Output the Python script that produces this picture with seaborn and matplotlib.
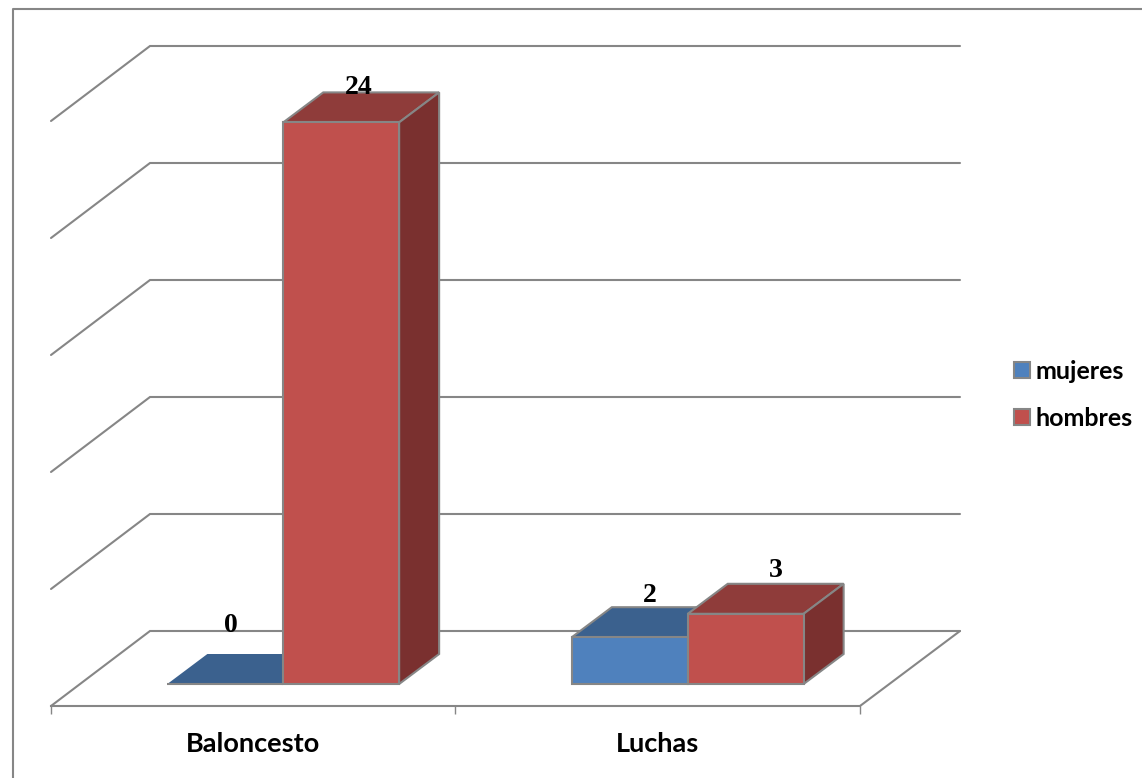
import matplotlib
matplotlib.use('Agg')
import matplotlib.pyplot as plt
from matplotlib.lines import Line2D
from matplotlib.patches import Polygon
from matplotlib.transforms import Affine2D, IdentityTransform
import pandas as pd
import seaborn as sns

categories = ['Baloncesto', 'Luchas']
mujeres = [0, 2]
hombres = [24, 3]
series_names = ['mujeres', 'hombres']
grid_levels = [0, 5, 10, 15, 20, 25]

W, H = 1142, 778
GRAY = '#868686'
LW = 1.5
FRONT = {'mujeres': '#4F81BD', 'hombres': '#C0504D'}
TOP = {'mujeres': '#3B618E', 'hombres': '#8F3C3A'}
SIDE = {'mujeres': '#31506F', 'hombres': '#7A302F'}
# fake 3d depth, in pixels
WALL_DX, WALL_DY = 99, 75
BAR_DX, BAR_DY = 40, 30
INSET_DX, INSET_DY = 30, 22
# hand placed data labels, pixels from the front top centre of each bar
label_nudge = {('mujeres', 0): (6, 59), ('hombres', 0): (18, 35),
               ('mujeres', 1): (20, 42), ('hombres', 1): (30, 43)}

df = pd.DataFrame({
    'deporte': categories * 2,
    'serie': ['mujeres'] * len(categories) + ['hombres'] * len(categories),
    'valor': mujeres + hombres,
})

sns.set_theme(style='white')
plt.rcParams['font.family'] = ['Lato', 'DejaVu Sans']

fig = plt.figure(figsize=(W / 100, H / 100), dpi=100)
ax = fig.add_axes([51 / W, (H - 706) / H, 809 / W, 585 / H])
sns.barplot(data=df, x='deporte', y='valor', hue='serie', order=categories,
            hue_order=series_names, palette=FRONT, width=0.573, gap=0,
            saturation=1, ax=ax)
ax.set_xlim(-0.5, 1.5)
ax.set_ylim(0, 25)
ax.patch.set_visible(False)
ax.set_xlabel('')
ax.set_ylabel('')
ax.set_yticks([])
sns.despine(ax=ax, left=True)
ax.spines['bottom'].set_color(GRAY)
ax.spines['bottom'].set_linewidth(LW)
ax.set_xticks([-0.5, 0.5, 1.5], minor=True)
ax.tick_params(axis='x', which='minor', length=6, width=1, color=GRAY, bottom=True)
ax.tick_params(axis='x', which='major', length=0, pad=18.5)
for lab in ax.get_xticklabels():
    lab.set_fontsize(19.5)
    lab.set_fontweight('bold')
    lab.set_color('black')


def add_poly(pts, **kw):
    ax.add_patch(Polygon(pts, closed=True, transform=IdentityTransform(), clip_on=False, **kw))


# walls and floor
to_px = ax.transData.transform
for level in grid_levels:
    x0, y0 = to_px((-0.5, level))
    x1, _ = to_px((1.5, level))
    xs = [x0, x0 + WALL_DX, x1 + WALL_DX + 1]
    ys = [y0, y0 + WALL_DY, y0 + WALL_DY]
    ax.add_line(Line2D(xs, ys, transform=IdentityTransform(), color=GRAY, lw=LW,
                       clip_on=False, zorder=1, solid_joinstyle='miter'))
x1, y0 = to_px((1.5, 0))
ax.add_line(Line2D([x1, x1 + WALL_DX + 1], [y0, y0 + WALL_DY], transform=IdentityTransform(),
                   color=GRAY, lw=LW, clip_on=False, zorder=1))

# bars get shifted onto the floor, then side and top faces are added
shift = Affine2D().translate(INSET_DX, INSET_DY)
for s, (name, bars) in enumerate(zip(series_names, ax.containers)):
    for i, bar in enumerate(bars):
        bar.set_transform(ax.transData + shift)
        bar.set_edgecolor(GRAY)
        bar.set_linewidth(LW)
        bar.set_zorder(3 + 2 * s)
        bar.set_clip_on(False)
        xa, ya = to_px((bar.get_x(), 0))
        xb, yb = to_px((bar.get_x() + bar.get_width(), bar.get_height()))
        xa, xb = xa + INSET_DX, xb + INSET_DX
        ya, yb = ya + INSET_DY, yb + INSET_DY
        add_poly([(xa, yb), (xa + BAR_DX, yb + BAR_DY), (xb + BAR_DX, yb + BAR_DY), (xb, yb)],
                 facecolor=TOP[name], edgecolor=GRAY if bar.get_height() > 0 else 'none',
                 lw=LW, zorder=2 + 2 * s)
        add_poly([(xb, ya), (xb + BAR_DX, ya + BAR_DY), (xb + BAR_DX, yb + BAR_DY), (xb, yb)],
                 facecolor=SIDE[name], edgecolor=GRAY, lw=LW, zorder=2 + 2 * s)
        nx, ny = label_nudge[(name, i)]
        ax.annotate(str(int(bar.get_height())), xy=((xa + xb) / 2, yb),
                    xycoords=IdentityTransform(),
                    xytext=(nx * 0.72, ny * 0.72), textcoords='offset points',
                    ha='center', va='center', family='Liberation Serif', fontweight='bold',
                    fontsize=20, color='black', zorder=10, annotation_clip=False)

sns.move_legend(ax, 'upper left', bbox_to_anchor=(1014 / W, (H - 360) / H),
                bbox_transform=fig.transFigure, frameon=False, title=None,
                prop={'size': 18, 'weight': 'bold', 'family': 'Lato'},
                labelcolor='black', handlelength=0.62, handleheight=0.62, handletextpad=0.25,
                labelspacing=0.96, borderpad=0, borderaxespad=0)
for h in ax.get_legend().legend_handles:
    h.set_edgecolor(GRAY)
    h.set_linewidth(LW)

# chart area border, cropped on the right and bottom in the source
fig.add_artist(Line2D([13 / W, 13 / W, 1], [0, (H - 9) / H, (H - 9) / H],
                      color=GRAY, lw=LW, transform=fig.transFigure))

fig.savefig('out.png', dpi=100, facecolor='white')
plt.close(fig)
